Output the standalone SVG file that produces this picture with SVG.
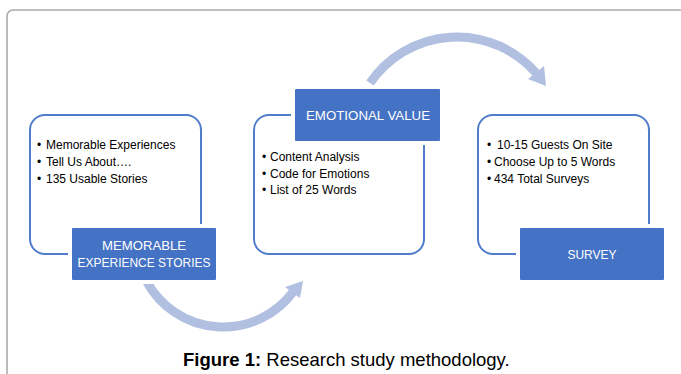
<svg xmlns="http://www.w3.org/2000/svg" width="681" height="374" viewBox="0 0 681 374">
<style>
.frame{fill:#fff;stroke:#ababab;stroke-width:1.6}
.outline{fill:#fff;stroke:#4f7ccb;stroke-width:2}
.label{fill:#4472c4;stroke:#fff;stroke-width:4}
.lt{font-family:"Liberation Sans",Arial,sans-serif;font-size:13px;fill:#fff;text-anchor:middle}
.bt{font-family:"Liberation Sans",Arial,sans-serif;font-size:12px;fill:#000}
.arc{fill:none;stroke:#b1bfe1;stroke-width:9}
.head{fill:#b1bfe1}
.cap{font-family:"Liberation Sans",Arial,sans-serif;font-size:18.5px;fill:#000}
</style>
<rect width="681" height="374" fill="#fff"/>
<rect class="frame" x="7" y="10" width="700" height="400" rx="6"/>
<g id="connectors">
<path class="arc" d="M 370 83 A 105 105 0 0 1 536 73"/>
<polygon class="head" points="546,86 544,66 528,79"/>
<path class="arc" d="M 147 282 A 87 87 0 0 0 293 292"/>
<polygon class="head" points="303,281 300,298 285,287"/>
</g>
<g id="node-memorable">
<rect class="outline" x="30" y="115" width="171" height="139" rx="15"/>
<text class="bt" x="37" y="149">•</text><text class="bt" x="46" y="149">Memorable Experiences</text>
<text class="bt" x="37" y="166">•</text><text class="bt" x="46" y="166">Tell Us About….</text>
<text class="bt" x="37" y="183">•</text><text class="bt" x="46" y="183">135 Usable Stories</text>
<rect class="label" x="70" y="226" width="148" height="56" rx="3"/>
<text class="lt" x="144" y="250" textLength="84" lengthAdjust="spacingAndGlyphs">MEMORABLE</text>
<text class="lt" x="144" y="267" textLength="133" lengthAdjust="spacingAndGlyphs">EXPERIENCE STORIES</text>
</g>
<g id="node-emotional">
<rect class="outline" x="254" y="115" width="170" height="139" rx="15"/>
<text class="bt" x="262" y="161">•</text><text class="bt" x="270" y="161">Content Analysis</text>
<text class="bt" x="262" y="178">•</text><text class="bt" x="270" y="178">Code for Emotions</text>
<text class="bt" x="262" y="194">•</text><text class="bt" x="270" y="194">List of 25 Words</text>
<rect class="label" x="293" y="87" width="149" height="56" rx="3"/>
<text class="lt" x="368" y="120" textLength="124" lengthAdjust="spacingAndGlyphs">EMOTIONAL VALUE</text>
</g>
<g id="node-survey">
<rect class="outline" x="478" y="115" width="171" height="139" rx="15"/>
<text class="bt" x="487" y="149">•</text><text class="bt" x="497" y="149">10-15 Guests On Site</text>
<text class="bt" x="487" y="166">•</text><text class="bt" x="494" y="166">Choose Up to 5 Words</text>
<text class="bt" x="487" y="183">•</text><text class="bt" x="494" y="183">434 Total Surveys</text>
<rect class="label" x="518" y="226" width="148" height="56" rx="3"/>
<text class="lt" x="592" y="259" textLength="49" lengthAdjust="spacingAndGlyphs">SURVEY</text>
</g>
<text class="cap" x="183" y="366"><tspan font-weight="bold">Figure 1:</tspan> Research study methodology.</text>
</svg>
